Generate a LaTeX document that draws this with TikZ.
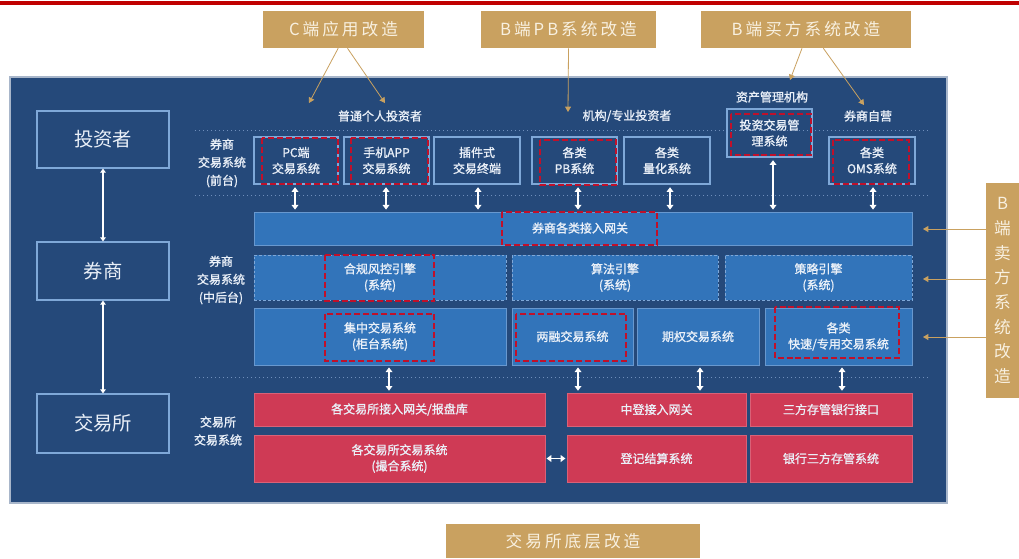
\documentclass[tikz,border=0pt]{standalone}
\usepackage{fontspec}
\setmainfont{Noto Sans CJK SC}
\newfontfamily\boldish[FakeBold=1.2]{Noto Sans CJK SC}
\usetikzlibrary{arrows.meta}
\definecolor{navy}{HTML}{25497A}
\definecolor{midblue}{HTML}{3274BA}
\definecolor{lineblue}{HTML}{7FA8D8}
\definecolor{crim}{HTML}{CF3A55}
\definecolor{gold}{HTML}{C9A160}
\definecolor{cream}{HTML}{F8F0E0}
\definecolor{hlred}{HTML}{C0102A}
\definecolor{topred}{HTML}{C00000}
\definecolor{txt}{HTML}{EAF0F8}
\definecolor{dotc}{HTML}{6F8EBB}
\newcommand\bx[7]{\node[#2, minimum width={(#5-#3)*0.75pt}, minimum height={(#6-#4)*0.75pt}] (#1) at ({(#3+#5)/2},{(#4+#6)/2}) {#7};}
\tikzset{
  base/.style={inner sep=0pt, align=center, text=txt, font=\boldish\fontsize{9}{12}\selectfont},
  frame/.style={base, draw=lineblue, line width=0.8pt},
  lframe/.style={frame, font=\fontsize{14.5}{16}\selectfont},
  bar/.style={base, fill=midblue, draw=lineblue!70!midblue, line width=0.6pt},
  dbar/.style={base, fill=midblue, draw=lineblue, line width=0.6pt, dash pattern=on 2pt off 1.5pt},
  rbar/.style={base, fill=crim, draw=crim!80!white, line width=0.4pt},
  goldbox/.style={inner sep=0pt, align=center, fill=gold, text=cream, font=\fontsize{12.5}{18.5}\selectfont\addfontfeature{LetterSpace=18}},
  hl/.style={draw=hlred, line width=1.5pt, dash pattern=on 4.5pt off 2.2pt},
  dbl/.style={draw=white, line width=1.1pt, {Triangle[width=5pt,length=3.5pt]}-{Triangle[width=5pt,length=3.5pt]}},
  thin dbl/.style={draw=white, line width=0.8pt, {Triangle[width=4pt,length=3pt]}-{Triangle[width=4pt,length=3pt]}},
  garrow/.style={draw=gold, line width=0.6pt, -{Triangle[width=4.5pt,length=4pt]}},
  sep/.style={draw=dotc, line width=0.6pt, dash pattern=on 1pt off 2pt},
  lab/.style={inner sep=0pt, align=center, text=txt, font=\boldish\fontsize{9}{13.5}\selectfont}
}
\begin{document}
\begin{tikzpicture}[x=0.75pt,y=-0.75pt]
\useasboundingbox (0,0) rectangle (1019,558);
\fill[white] (0,0) rectangle (1019,558);
\fill[topred] (0,1) rectangle (1019,5);
% main panel
\draw[fill=navy, draw=navy!40!white, line width=0.8pt] (10,77) rectangle (947,503);
% separators
\draw[sep] (195,130) -- (930,130);
\draw[sep] (195,195) -- (930,195);
\draw[sep] (195,377) -- (930,377);
% left column
\bx{inv}{lframe}{37}{111}{169}{168}{投资者}
\bx{qs}{lframe}{37}{242}{169}{300}{券商}
\bx{exch}{lframe}{37}{394}{169}{453}{交易所}
\draw[thin dbl] (inv.south) -- (qs.north);
\draw[thin dbl] (qs.south) -- (exch.north);
% row labels
\node[lab] (rl1) at (222,163) {券商\\交易系统\\(前台)};
\node[lab] (rl2) at (221,280) {券商\\交易系统\\(中后台)};
\node[lab] (rl3) at (218,431) {交易所\\交易系统};
% headers
\node[lab] (h1) at (380,116) {普通个人投资者};
\node[lab] (h2) at (627,116) {机构/专业投资者};
\node[lab] (h3) at (772,97) {资产管理机构};
\node[lab] (h4) at (868,116) {券商自营};
% front row
\bx{pc}{frame}{254}{137}{338}{184}{PC端\\交易系统}
\bx{app}{frame}{344}{137}{429}{184}{手机APP\\交易系统}
\bx{plug}{frame}{434}{137}{520}{184}{插件式\\交易终端}
\bx{pb}{frame}{532}{137}{617}{184}{各类\\PB系统}
\bx{quant}{frame}{624}{137}{710}{184}{各类\\量化系统}
\bx{itm}{frame}{727}{109}{812}{157}{投资交易管\\理系统}
\bx{oms}{frame}{829}{137}{915}{184}{各类\\OMS系统}
% gateway
\bx{gw}{bar}{254}{212}{912}{245}{}
\node[lab] (gwt) at (580,228) {券商各类接入网关};
% engines
\bx{e1}{dbar}{254}{255}{506}{300}{合规风控引擎\\(系统)}
\bx{e2}{dbar}{512}{255}{718}{300}{算法引擎\\(系统)}
\bx{e3}{dbar}{725}{255}{912}{300}{策略引擎\\(系统)}
% trading
\bx{t1}{bar}{254}{308}{506}{365}{集中交易系统\\(柜台系统)}
\bx{t2}{bar}{512}{308}{633}{365}{两融交易系统}
\bx{t3}{bar}{637}{308}{759}{365}{期权交易系统}
\bx{t4}{bar}{765}{308}{912}{365}{各类\\快速/专用交易系统}
% exchange
\bx{x1}{rbar}{254}{393}{545}{426}{各交易所接入网关/报盘库}
\bx{x2}{rbar}{567}{393}{746}{426}{中登接入网关}
\bx{x3}{rbar}{750}{393}{912}{426}{三方存管银行接口}
\bx{x4}{rbar}{254}{435}{545}{482}{各交易所交易系统\\(撮合系统)}
\bx{x5}{rbar}{567}{435}{746}{482}{登记结算系统}
\bx{x6}{rbar}{750}{435}{912}{482}{银行三方存管系统}
% highlights
\draw[hl] (262,138) rectangle (338,184);
\draw[hl] (351,138) rectangle (428,184);
\draw[hl] (540,140) rectangle (616,185);
\draw[hl] (731,114) rectangle (811,155);
\draw[hl] (833,140) rectangle (909,184);
\draw[hl] (502,212) rectangle (657,245);
\draw[hl] (325,255) rectangle (434,301);
\draw[hl] (325,314) rectangle (434,361);
\draw[hl] (516,314) rectangle (626,361);
\draw[hl] (775,307) rectangle (899,358);
% front-to-gateway arrows
\coordinate (ca) at (295,0);
\coordinate (cb) at (386,0);
\coordinate (cc) at (478,0);
\coordinate (cd) at (578,0);
\coordinate (ce) at (670,0);
\coordinate (cf) at (773,0);
\coordinate (cg) at (873,0);
\draw[dbl, shorten <=2pt, shorten >=1.5pt] (ca |- pc.south) -- (ca |- gw.north);
\draw[dbl, shorten <=2pt, shorten >=1.5pt] (cb |- app.south) -- (cb |- gw.north);
\draw[dbl, shorten <=2pt, shorten >=1.5pt] (cc |- plug.south) -- (cc |- gw.north);
\draw[dbl, shorten <=2pt, shorten >=1.5pt] (cd |- pb.south) -- (cd |- gw.north);
\draw[dbl, shorten <=2pt, shorten >=1.5pt] (ce |- quant.south) -- (ce |- gw.north);
\draw[dbl, shorten <=2pt, shorten >=1.5pt] (cf |- itm.south) -- (cf |- gw.north);
\draw[dbl, shorten <=2pt, shorten >=1.5pt] (cg |- oms.south) -- (cg |- gw.north);
% trading-to-exchange arrows
\coordinate (da) at (389,0);
\coordinate (db) at (578,0);
\coordinate (dc) at (700,0);
\coordinate (dd) at (842,0);
\draw[dbl, shorten <=1.5pt, shorten >=1.5pt] (da |- t1.south) -- (da |- x1.north);
\draw[dbl, shorten <=1.5pt, shorten >=1.5pt] (db |- t2.south) -- (db |- x2.north);
\draw[dbl, shorten <=1.5pt, shorten >=1.5pt] (dc |- t3.south) -- (dc |- x2.north);
\draw[dbl, shorten <=1.5pt, shorten >=1.5pt] (dd |- t4.south) -- (dd |- x3.north);
\draw[dbl, shorten <=1pt, shorten >=1pt] (x4.east) -- (x5.west);
% gold boxes
\bx{cbox}{goldbox}{263}{11}{424}{48}{C端应用改造}
\bx{pbbox}{goldbox}{481}{11}{656}{48}{B端PB系统改造}
\bx{buybox}{goldbox}{701}{11}{911}{48}{B端买方系统改造}
\bx{sellbox}{goldbox}{986}{183}{1019}{398}{B\\端\\卖\\方\\系\\统\\改\\造}
\bx{exbox}{goldbox}{446}{524}{700}{558}{交易所底层改造}
% gold arrows
\coordinate (g1) at (309,103);
\coordinate (g2) at (385,103);
\coordinate (g3) at (568,112);
\coordinate (g4) at (790,80);
\coordinate (g5) at (864,105);
\coordinate (g6) at (923,229);
\coordinate (g7) at (923,279);
\coordinate (g8) at (923,337);
\draw[garrow] ([xshift=-4pt]cbox.south) -- (g1);
\draw[garrow] ([xshift=3pt]cbox.south) -- (g2);
\draw[garrow] (pbbox.south) -- (g3);
\draw[garrow] ([xshift=-3pt]buybox.south) -- (g4);
\draw[garrow] ([xshift=13pt]buybox.south) -- (g5);
\draw[garrow] (sellbox.west |- g6) -- (g6);
\draw[garrow] (sellbox.west |- g7) -- (g7);
\draw[garrow] (sellbox.west |- g8) -- (g8);
\end{tikzpicture}
\end{document}
